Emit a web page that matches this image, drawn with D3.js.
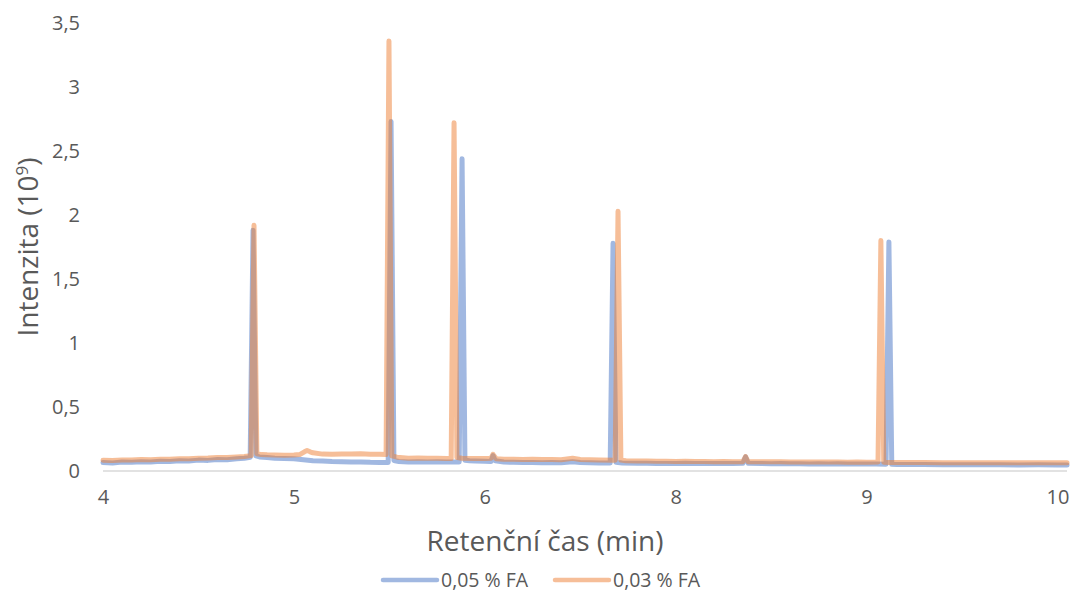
<!DOCTYPE html>
<html>
<head>
<meta charset="utf-8">
<script src="https://cdn.jsdelivr.net/npm/d3@7"></script>
<style>
  html, body { margin: 0; padding: 0; background: #ffffff; }
  svg { display: block; font-family: "Open Sans", "Noto Sans", sans-serif; }
</style>
</head>
<body>
<svg id="chart" width="1072" height="592"></svg>
<script>
// Time axis positions are given in tick intervals (0 = first tick, 5 = last tick).
const xTickLabels = ["4", "5", "6", "8", "9", "10"];
const xTickValues = [0, 1, 2, 3, 4, 5];
const yTickValues = [0, 0.5, 1, 1.5, 2, 2.5, 3, 3.5];
const yTickLabels = ["0", "0,5", "1", "1,5", "2", "2,5", "3", "3,5"];
const seriesNames = ["0,05 % FA", "0,03 % FA"];

// 0,05 % FA : [position, intensity (10^9)]
const trace05 = [
  [0.00, 0.066], [0.05, 0.062], [0.10, 0.070], [0.15, 0.068], [0.20, 0.073], [0.25, 0.070],
  [0.30, 0.076], [0.35, 0.074], [0.40, 0.080], [0.45, 0.078], [0.50, 0.085], [0.55, 0.083],
  [0.60, 0.090], [0.65, 0.088], [0.70, 0.096], [0.74, 0.100], [0.771, 0.108],
  [0.786, 1.88],
  [0.801, 0.118], [0.82, 0.110], [0.86, 0.106], [0.90, 0.100], [0.95, 0.098], [1.00, 0.095],
  [1.05, 0.088], [1.10, 0.080], [1.15, 0.079], [1.20, 0.075], [1.25, 0.073], [1.30, 0.070],
  [1.35, 0.071], [1.40, 0.068], [1.45, 0.067], [1.494, 0.066],
  [1.509, 2.73],
  [1.524, 0.082], [1.55, 0.074], [1.60, 0.070], [1.65, 0.073], [1.70, 0.071], [1.75, 0.073],
  [1.80, 0.070], [1.866, 0.071],
  [1.881, 2.44],
  [1.896, 0.084], [1.92, 0.080], [1.95, 0.078], [2.00, 0.076], [2.033, 0.075], [2.043, 0.120],
  [2.055, 0.080], [2.10, 0.070], [2.15, 0.068], [2.20, 0.066], [2.25, 0.067], [2.30, 0.065],
  [2.35, 0.066], [2.40, 0.064], [2.46, 0.072], [2.50, 0.066], [2.55, 0.064], [2.60, 0.063],
  [2.657, 0.062],
  [2.672, 1.78],
  [2.687, 0.068], [2.72, 0.063], [2.80, 0.060], [2.85, 0.061], [2.90, 0.058], [2.95, 0.059],
  [3.00, 0.058], [3.05, 0.060], [3.10, 0.058], [3.15, 0.059], [3.20, 0.058], [3.25, 0.059],
  [3.30, 0.058], [3.352, 0.060], [3.366, 0.110], [3.38, 0.060], [3.45, 0.058], [3.50, 0.057],
  [3.55, 0.058], [3.60, 0.056], [3.65, 0.057], [3.70, 0.055], [3.75, 0.056], [3.80, 0.055],
  [3.85, 0.056], [3.90, 0.055], [3.95, 0.055], [4.00, 0.054], [4.05, 0.054], [4.102, 0.053],
  [4.117, 1.79],
  [4.132, 0.052], [4.16, 0.050], [4.20, 0.050], [4.30, 0.050], [4.40, 0.049], [4.50, 0.049],
  [4.60, 0.048], [4.70, 0.048], [4.80, 0.047], [4.90, 0.048], [5.00, 0.047], [5.05, 0.047]
];

// 0,03 % FA : [position, intensity (10^9)]
const trace03 = [
  [0.00, 0.084], [0.05, 0.082], [0.10, 0.086], [0.15, 0.085], [0.20, 0.089], [0.25, 0.088],
  [0.30, 0.091], [0.35, 0.092], [0.40, 0.095], [0.45, 0.096], [0.50, 0.100], [0.55, 0.101],
  [0.60, 0.105], [0.65, 0.106], [0.70, 0.110], [0.74, 0.114], [0.776, 0.120],
  [0.791, 1.92],
  [0.806, 0.135], [0.83, 0.128], [0.86, 0.126], [0.90, 0.125], [0.95, 0.124], [1.00, 0.125],
  [1.03, 0.128], [1.055, 0.150], [1.069, 0.160], [1.085, 0.150], [1.10, 0.142], [1.15, 0.132],
  [1.20, 0.130], [1.25, 0.133], [1.30, 0.132], [1.35, 0.134], [1.40, 0.130], [1.45, 0.131],
  [1.483, 0.128],
  [1.498, 3.36],
  [1.513, 0.118], [1.54, 0.108], [1.60, 0.100], [1.65, 0.102], [1.70, 0.100], [1.75, 0.099],
  [1.80, 0.098], [1.824, 0.097],
  [1.839, 2.72],
  [1.854, 0.105], [1.88, 0.100], [1.95, 0.098], [2.00, 0.097], [2.033, 0.100], [2.043, 0.130],
  [2.06, 0.095], [2.10, 0.092], [2.15, 0.091], [2.20, 0.090], [2.25, 0.091], [2.30, 0.090],
  [2.35, 0.089], [2.40, 0.088], [2.46, 0.100], [2.50, 0.090], [2.55, 0.087], [2.60, 0.085],
  [2.683, 0.084],
  [2.698, 2.03],
  [2.713, 0.085], [2.74, 0.080], [2.80, 0.078], [2.85, 0.079], [2.90, 0.076], [2.95, 0.077],
  [3.00, 0.075], [3.05, 0.076], [3.10, 0.074], [3.15, 0.075], [3.20, 0.073], [3.25, 0.074],
  [3.30, 0.073], [3.352, 0.073], [3.366, 0.113], [3.38, 0.072], [3.45, 0.073], [3.50, 0.072],
  [3.55, 0.072], [3.60, 0.071], [3.65, 0.071], [3.70, 0.070], [3.75, 0.071], [3.80, 0.070],
  [3.85, 0.070], [3.90, 0.069], [3.95, 0.070], [4.00, 0.069], [4.060, 0.070],
  [4.075, 1.80],
  [4.090, 0.068], [4.12, 0.066], [4.20, 0.066], [4.30, 0.066], [4.40, 0.065], [4.50, 0.065],
  [4.60, 0.065], [4.70, 0.064], [4.80, 0.064], [4.90, 0.065], [5.00, 0.064], [5.05, 0.064]
];

const colors = ["#4472C4", "#ED7D31"];
const textColor = "#595959";

const svg = d3.select("#chart");
const x = d3.scaleLinear().domain([0, 5.05]).range([103, 1067]);
const y = d3.scaleLinear().domain([0, 3.5]).range([471, 23]);

// horizontal baseline of the plot
svg.append("line")
  .attr("x1", x(0)).attr("x2", x(5.05))
  .attr("y1", y(0)).attr("y2", y(0))
  .attr("stroke", "#D9D9D9").attr("stroke-width", 1.3);

// y axis labels
const yAxis = d3.axisLeft(y)
  .tickValues(yTickValues)
  .tickFormat((d, i) => yTickLabels[i])
  .tickSize(0).tickPadding(0);
const gy = svg.append("g").attr("transform", "translate(80,0)").call(yAxis);
gy.select(".domain").remove();
gy.selectAll("text")
  .attr("fill", textColor)
  .style("font-size", "20px")
  .style("font-family", "'Open Sans', sans-serif");

// x axis labels
const xAxis = d3.axisBottom(x)
  .tickValues(xTickValues)
  .tickFormat((d, i) => xTickLabels[i])
  .tickSize(0).tickPadding(0);
const gx = svg.append("g").attr("transform", "translate(0,490)").call(xAxis);
gx.select(".domain").remove();
gx.selectAll("text")
  .attr("fill", textColor)
  .style("font-size", "20px")
  .style("font-family", "'Open Sans', sans-serif");

// traces
const line = d3.line()
  .x(d => x(d[0]))
  .y(d => y(d[1]));

[trace05, trace03].forEach((pts, i) => {
  svg.append("path")
    .datum(pts)
    .attr("d", line)
    .attr("fill", "none")
    .attr("stroke", colors[i])
    .attr("stroke-opacity", 0.5)
    .attr("stroke-width", 5)
    .attr("stroke-linejoin", "round")
    .attr("stroke-linecap", "round");
});

// axis titles
svg.append("text")
  .attr("x", 545).attr("y", 551)
  .attr("text-anchor", "middle")
  .attr("fill", textColor)
  .style("font-size", "28px")
  .text("Retenční čas (min)");

const yt = svg.append("text")
  .attr("transform", "translate(38,247) rotate(-90)")
  .attr("text-anchor", "middle")
  .attr("fill", textColor)
  .style("font-size", "28px");
yt.append("tspan").text("Intenzita (10");
yt.append("tspan").attr("dy", -10).style("font-size", "17px").text("9");
yt.append("tspan").attr("dy", 10).text(")");

// legend
const legendX = [383, 555];
seriesNames.forEach((name, i) => {
  const g = svg.append("g").attr("transform", `translate(${legendX[i]},580)`);
  g.append("line")
    .attr("x1", 0).attr("x2", 54).attr("y1", 0).attr("y2", 0)
    .attr("stroke", colors[i]).attr("stroke-opacity", 0.5)
    .attr("stroke-width", 4.5).attr("stroke-linecap", "round");
  g.append("text")
    .attr("x", 58).attr("y", 6.5)
    .attr("fill", textColor)
    .style("font-size", "19.5px")
    .text(name);
});
</script>
</body>
</html>
